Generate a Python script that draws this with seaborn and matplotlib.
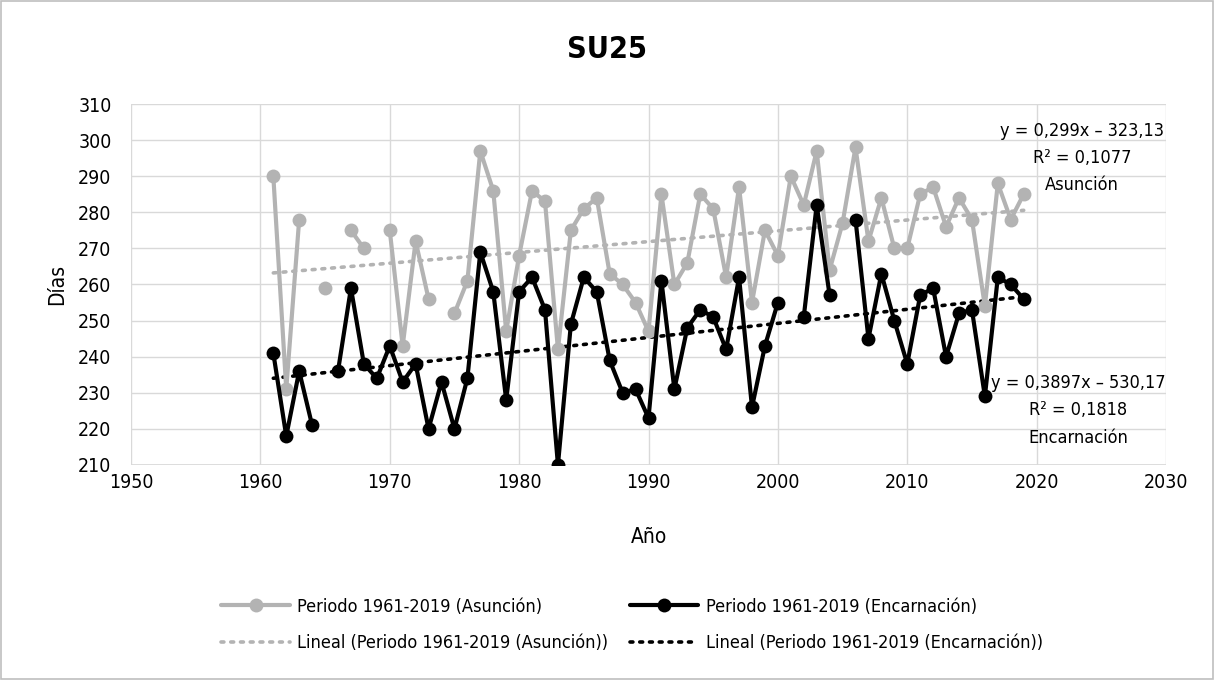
import numpy as np
import pandas as pd
import matplotlib
matplotlib.use("Agg")
import matplotlib.pyplot as plt
from matplotlib.lines import Line2D
from matplotlib.patches import Rectangle
from matplotlib import font_manager
import seaborn as sns

# ---------------- data ----------------
years = list(range(1961, 2020))
asuncion = [290, 231, 278, np.nan, 259, np.nan, 275, 270, np.nan, 275,
            243, 272, 256, np.nan, 252, 261, 297, 286, 247, 268,
            286, 283, 242, 275, 281, 284, 263, 260, 255, 247,
            285, 260, 266, 285, 281, 262, 287, 255, 275, 268,
            290, 282, 297, 264, 277, 298, 272, 284, 270, 270,
            285, 287, 276, 284, 278, 254, 288, 278, 285]
encarnacion = [241, 218, 236, 221, np.nan, 236, 259, 238, 234, 243,
               233, 238, 220, 233, 220, 234, 269, 258, 228, 258,
               262, 253, 210, 249, 262, 258, 239, 230, 231, 223,
               261, 231, 248, 253, 251, 242, 262, 226, 243, 255,
               np.nan, 251, 282, 257, np.nan, 278, 245, 263, 250, 238,
               257, 259, 240, 252, 253, 229, 262, 260, 256]
trend_slope = {"Asunción": 0.299, "Encarnación": 0.3897}
trend_intercept = {"Asunción": -323.13, "Encarnación": -530.17}
trend_r2 = {"Asunción": "0,1077", "Encarnación": "0,1818"}
series_labels = {"Asunción": "Periodo 1961-2019 (Asunción)",
                 "Encarnación": "Periodo 1961-2019 (Encarnación)"}
colors = {"Asunción": "#B3B3B3", "Encarnación": "#000000"}

# ---------------- style ----------------
sns.set_theme(style="white")

# pick a condensed font if one is installed
cond = None
for f in font_manager.fontManager.ttflist:
    nm = f.name.lower()
    fn = f.fname.lower()
    if "narrow" in nm or "condensed" in nm or "condensed" in fn or "narrow" in fn:
        cond = f
        break
if cond is not None:
    font_manager.fontManager.addfont(cond.fname)
    fam = cond.name
    plt.rcParams["font.stretch"] = cond.stretch
    base = 14
else:
    fam = "Roboto"
    base = 12.5
plt.rcParams["font.family"] = [fam, "DejaVu Sans"]
plt.rcParams["text.color"] = "black"
plt.rcParams["axes.labelcolor"] = "black"

fig = plt.figure(figsize=(12.14, 6.8), dpi=100)
ax = fig.add_axes([131 / 1214, 1 - 465 / 680, (1166 - 131) / 1214, (465 - 104) / 680])


def segments(vals):
    seg = []
    s = 0
    prev_nan = False
    for v in vals:
        if np.isnan(v):
            prev_nan = True
            seg.append(-1)
        else:
            if prev_nan:
                s += 1
            prev_nan = False
            seg.append(s)
    return seg


for name, vals in [("Asunción", asuncion), ("Encarnación", encarnacion)]:
    df = pd.DataFrame({"year": years, "val": vals, "seg": segments(vals)})
    df = df[df["seg"] >= 0]
    sns.lineplot(data=df, x="year", y="val", units="seg", estimator=None,
                 color=colors[name], linewidth=3.0, marker="o", markersize=10,
                 markeredgewidth=0, ax=ax, zorder=3 if name == "Encarnación" else 2,
                 legend=False)
    yr = np.array([years[0], years[-1]], dtype=float)
    ax.plot(yr, trend_slope[name] * yr + trend_intercept[name],
            color=colors[name], linewidth=2.6, linestyle=(0, (0.8, 1.9)),
            dash_capstyle="round", zorder=1)

ax.set_xlim(1950, 2030)
ax.set_ylim(210, 310)
ax.set_xticks(np.arange(1950, 2031, 10))
ax.set_yticks(np.arange(210, 311, 10))
ax.grid(True, color="#D9D9D9", linewidth=1.0)
for s in ax.spines.values():
    s.set_visible(False)
ax.axhline(210, color="#D9D9D9", linewidth=1.2, zorder=0)
ax.tick_params(axis="both", length=0, labelsize=base, colors="black")
ax.tick_params(axis="x", pad=6)
ax.tick_params(axis="y", pad=14)
ax.set_xlabel("Año", fontsize=base + 1)
ax.set_ylabel("Días", fontsize=base + 1)
ax.xaxis.set_label_coords(0.5, (465 - 537) / 361, transform=ax.transAxes)
ax.yaxis.set_label_coords((57 - 131) / 1035, 0.5, transform=ax.transAxes)
ax.xaxis.label.set_va("center")
ax.yaxis.label.set_va("center")

fig.text(0.5, 1 - 50 / 680, "SU25", ha="center", va="center",
         fontsize=base + 8, fontweight="bold")


def eq_text(name):
    b = trend_intercept[name]
    sl = f"{trend_slope[name]}".replace(".", ",")
    ib = f"{abs(b):.2f}".replace(".", ",")
    return f"y = {sl}x – {ib}\nR² = {trend_r2[name]}\n{name}"


ax.text(2023.5, 305.0, eq_text("Asunción"), ha="center", va="top",
        fontsize=base - 1, linespacing=1.65, zorder=5)
ax.text(2023.2, 235.1, eq_text("Encarnación"), ha="center", va="top",
        fontsize=base - 1, linespacing=1.65, zorder=5)

# legend
handles = [
    Line2D([], [], color=colors["Asunción"], linewidth=3, marker="o", markersize=10,
           markeredgewidth=0, label=series_labels["Asunción"]),
    Line2D([], [], color=colors["Asunción"], linewidth=2.6, linestyle=(0, (0.8, 1.9)),
           dash_capstyle="round", label="Lineal (" + series_labels["Asunción"] + ")"),
    Line2D([], [], color=colors["Encarnación"], linewidth=3, marker="o", markersize=10,
           markeredgewidth=0, label=series_labels["Encarnación"]),
    Line2D([], [], color=colors["Encarnación"], linewidth=2.6, linestyle=(0, (0.8, 1.9)),
           dash_capstyle="round", label="Lineal (" + series_labels["Encarnación"] + ")"),
]
leg = fig.legend(handles=handles, ncol=2, loc="center left",
                 bbox_to_anchor=(205 / 1214, 1 - 625 / 680), frameon=False,
                 fontsize=base - 1, handlelength=3.8, handletextpad=0.4, columnspacing=1.2,
                 labelspacing=1.05)

fig.patches.append(Rectangle((0.001, 0.001), 0.998, 0.998, transform=fig.transFigure,
                             fill=False, edgecolor="#BFBFBF", linewidth=1.2))

fig.savefig("out.png", dpi=100)
